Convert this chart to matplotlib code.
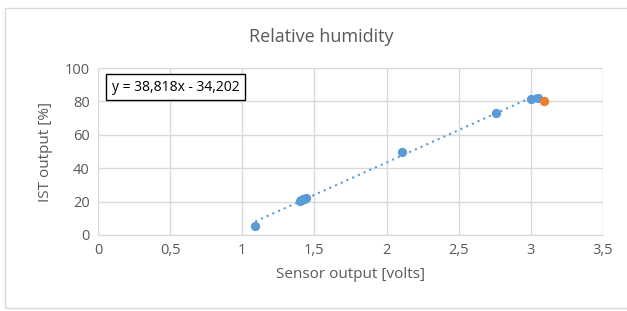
import numpy as np
import matplotlib
matplotlib.use("Agg")
import matplotlib.pyplot as plt
from matplotlib.patches import Rectangle

plt.rcParams['font.family'] = ['Open Sans', 'DejaVu Sans']

sensor_v = [1.09, 1.40, 1.41, 1.42, 1.43, 1.44, 2.11, 2.76, 3.00, 3.05]
ist_pct = [5.5, 20.5, 21.0, 21.3, 21.6, 22.0, 49.6, 72.8, 81.2, 82.0]
extra_v = [3.09]
extra_pct = [80.0]
slope, intercept = 38.818, -34.202
eq_label = "y = 38,818x - 34,202"
xticks = [0, 0.5, 1, 1.5, 2, 2.5, 3, 3.5]
xticklabels = ["0", "0,5", "1", "1,5", "2", "2,5", "3", "3,5"]
yticks = [0, 20, 40, 60, 80, 100]

W, H = 627, 311
fig = plt.figure(figsize=(W/100, H/100), dpi=100)
ax = fig.add_axes([98/W, 1-235/H, (603-98)/W, (235-68)/H])

grid_c = '#d9d9d9'
text_c = '#595959'
ax.set_xlim(0, 3.5)
ax.set_ylim(0, 100)
ax.set_xticks(xticks)
ax.set_xticklabels(xticklabels)
ax.set_yticks(yticks)
ax.grid(True, color=grid_c, lw=1)
ax.set_axisbelow(True)
for s in ['top', 'right', 'left']:
    ax.spines[s].set_visible(False)
ax.spines['bottom'].set_color(grid_c)
ax.tick_params(length=0, colors=text_c, labelsize=10.5, pad=6)

xs = np.array([min(sensor_v), max(sensor_v)])
ax.plot(xs, slope*xs + intercept, ls=(0, (1, 2)), color='#5b9bd5', lw=1.5, zorder=2)
ax.scatter(sensor_v, ist_pct, s=45, color='#5b9bd5', zorder=3, linewidths=0)
ax.scatter(extra_v, extra_pct, s=45, color='#ed7d31', zorder=4, linewidths=0)

ax.set_xlabel("Sensor output [volts]", color=text_c, fontsize=11, labelpad=6)
ax.set_ylabel("IST output [%]", color=text_c, fontsize=11, labelpad=8)
fig.text(321/W, 1-37/H, "Relative humidity", ha='center', va='center', color=text_c, fontsize=13)

ax.text(0.027, 0.886, eq_label, transform=ax.transAxes, fontsize=10, color='black',
        va='center', ha='left',
        bbox=dict(boxstyle='square,pad=0.4', fc='white', ec='black', lw=1))

fig.patches.append(Rectangle((5/W, 1-308/H), (W+5)/W, (308-8)/H, transform=fig.transFigure,
                             fill=False, ec='#d9d9d9', lw=1))
fig.savefig("out.png", dpi=100)
